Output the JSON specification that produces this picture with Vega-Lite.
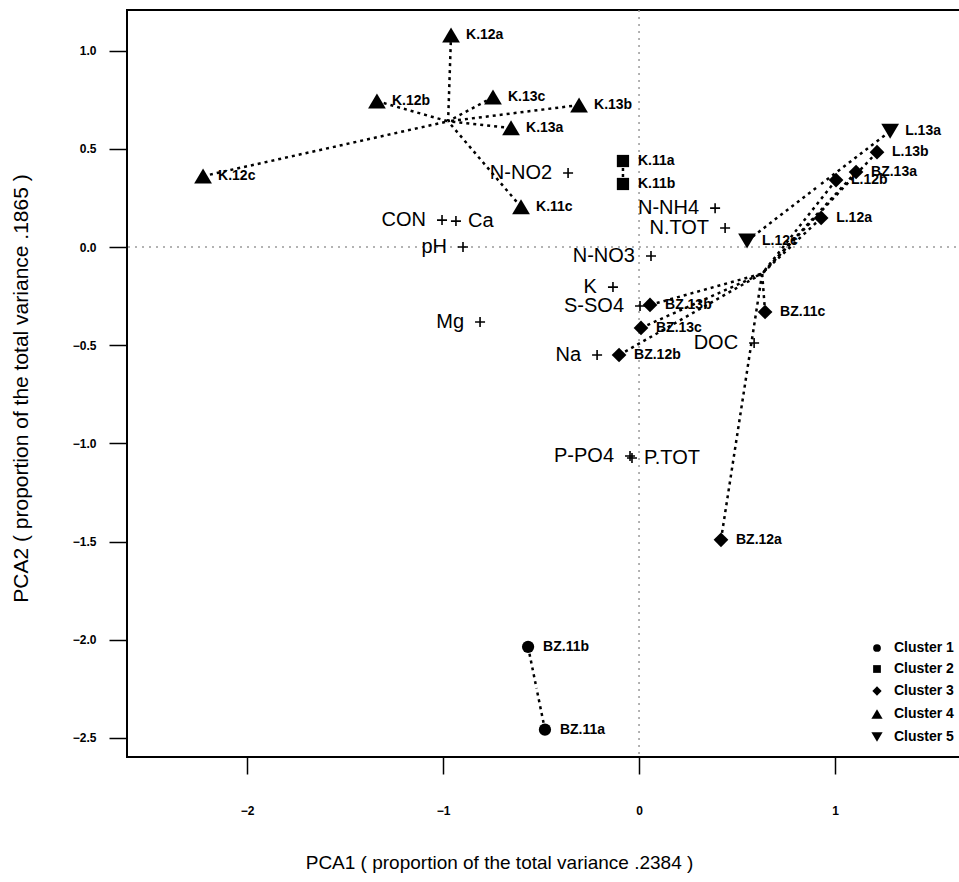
{
  "$schema": "https://vega.github.io/schema/vega-lite/v6.json",
  "width": 850,
  "height": 747,
  "padding": {"left": 10, "top": 9, "right": 0, "bottom": 5},
  "background": "white",
  "config": {
    "view": {"stroke": "black", "strokeWidth": 2},
    "axis": {"grid": false, "domain": false, "tickColor": "black", "labelColor": "black", "titleColor": "black", "labelFont": "Liberation Sans", "titleFont": "Liberation Sans"},
    "legend": {"labelFont": "Liberation Sans"}
  },
  "datasets": {
    "samples": [
      {"id": "BZ.11a", "cluster": "Cluster 1", "x": -0.480, "y": -2.458, "cx": -0.523, "cy": -2.247},
      {"id": "BZ.11b", "cluster": "Cluster 1", "x": -0.566, "y": -2.036, "cx": -0.523, "cy": -2.247},
      {"id": "K.11a", "cluster": "Cluster 2", "x": -0.082, "y": 0.438, "cx": -0.082, "cy": 0.380},
      {"id": "K.11b", "cluster": "Cluster 2", "x": -0.082, "y": 0.321, "cx": -0.082, "cy": 0.380},
      {"id": "L.13b", "cluster": "Cluster 3", "x": 1.214, "y": 0.483, "cx": 0.628, "cy": -0.135},
      {"id": "BZ.13a", "cluster": "Cluster 3", "x": 1.107, "y": 0.382, "cx": 0.628, "cy": -0.135},
      {"id": "L.12b", "cluster": "Cluster 3", "x": 1.005, "y": 0.341, "cx": 0.628, "cy": -0.135},
      {"id": "L.12a", "cluster": "Cluster 3", "x": 0.929, "y": 0.148, "cx": 0.628, "cy": -0.135},
      {"id": "BZ.13b", "cluster": "Cluster 3", "x": 0.056, "y": -0.295, "cx": 0.628, "cy": -0.135},
      {"id": "BZ.13c", "cluster": "Cluster 3", "x": 0.010, "y": -0.412, "cx": 0.628, "cy": -0.135},
      {"id": "BZ.12b", "cluster": "Cluster 3", "x": -0.102, "y": -0.550, "cx": 0.628, "cy": -0.135},
      {"id": "BZ.11c", "cluster": "Cluster 3", "x": 0.643, "y": -0.331, "cx": 0.628, "cy": -0.135},
      {"id": "BZ.12a", "cluster": "Cluster 3", "x": 0.418, "y": -1.491, "cx": 0.628, "cy": -0.135},
      {"id": "K.12a", "cluster": "Cluster 4", "x": -0.959, "y": 1.079, "cx": -0.974, "cy": 0.640},
      {"id": "K.12b", "cluster": "Cluster 4", "x": -1.337, "y": 0.743, "cx": -0.974, "cy": 0.640},
      {"id": "K.12c", "cluster": "Cluster 4", "x": -2.224, "y": 0.361, "cx": -0.974, "cy": 0.640},
      {"id": "K.13c", "cluster": "Cluster 4", "x": -0.745, "y": 0.763, "cx": -0.974, "cy": 0.640},
      {"id": "K.13b", "cluster": "Cluster 4", "x": -0.306, "y": 0.723, "cx": -0.974, "cy": 0.640},
      {"id": "K.13a", "cluster": "Cluster 4", "x": -0.653, "y": 0.606, "cx": -0.974, "cy": 0.640},
      {"id": "K.11c", "cluster": "Cluster 4", "x": -0.602, "y": 0.204, "cx": -0.974, "cy": 0.640},
      {"id": "L.13a", "cluster": "Cluster 5", "x": 1.281, "y": 0.590, "cx": 0.916, "cy": 0.311},
      {"id": "L.12c", "cluster": "Cluster 5", "x": 0.551, "y": 0.031, "cx": 0.916, "cy": 0.311}
    ],
    "loadings": [
      {"var": "N-NO2", "side": "left", "x": -0.362, "y": 0.377},
      {"var": "CON", "side": "left", "x": -1.005, "y": 0.137},
      {"var": "Ca", "side": "right", "x": -0.934, "y": 0.132},
      {"var": "pH", "side": "left", "x": -0.898, "y": 0.0},
      {"var": "N-NH4", "side": "left", "x": 0.388, "y": 0.198},
      {"var": "N.TOT", "side": "left", "x": 0.439, "y": 0.097},
      {"var": "N-NO3", "side": "left", "x": 0.061, "y": -0.046},
      {"var": "K", "side": "left", "x": -0.133, "y": -0.204},
      {"var": "S-SO4", "side": "left", "x": 0.005, "y": -0.300},
      {"var": "Mg", "side": "left", "x": -0.811, "y": -0.382},
      {"var": "Na", "side": "left", "x": -0.214, "y": -0.550},
      {"var": "DOC", "side": "left", "x": 0.587, "y": -0.489},
      {"var": "P-PO4", "side": "left", "x": -0.046, "y": -1.064},
      {"var": "P.TOT", "side": "right", "x": -0.036, "y": -1.074}
    ]
  },
  "layer": [
    {
      "data": {"name": "samples"},
      "mark": {"type": "rule", "color": "black", "strokeWidth": 2.5, "strokeDash": [3, 4]},
      "encoding": {
        "x": {"field": "x", "type": "quantitative", "scale": {"domain": [-2.612, 1.724], "nice": false, "zero": false},
          "axis": {"values": [-2, -1, 0, 1], "format": "d", "tickSize": 17, "tickWidth": 1.5, "labelPadding": 31, "labelFontSize": 12, "labelFontWeight": "bold",
            "title": "PCA1 ( proportion of the total variance  .2384 )", "titleFontSize": 19, "titleFontWeight": "normal", "titleX": 372, "titleY": 105, "titleBaseline": "middle"}},
        "y": {"field": "y", "type": "quantitative", "scale": {"domain": [-2.597, 1.207], "nice": false, "zero": false},
          "axis": {"values": [-2.5, -2, -1.5, -1, -0.5, 0, 0.5, 1], "format": ".1f", "tickSize": 18, "tickWidth": 1.5, "labelPadding": 13, "labelFontSize": 12, "labelFontWeight": "bold",
            "title": "PCA2 ( proportion of the total variance .1865 )", "titleFontSize": 21, "titleFontWeight": "normal", "titleX": -106, "titleY": 378, "titleBaseline": "middle", "titleAngle": -90}},
        "x2": {"field": "cx"},
        "y2": {"field": "cy"}
      }
    },
    {
      "data": {"values": [{"v": 0}]},
      "mark": {"type": "rule", "color": "#9a9a9a", "strokeWidth": 1.5, "strokeDash": [2, 5]},
      "encoding": {"x": {"field": "v", "type": "quantitative"}}
    },
    {
      "data": {"values": [{"v": 0}]},
      "mark": {"type": "rule", "color": "#9a9a9a", "strokeWidth": 1.5, "strokeDash": [2, 5]},
      "encoding": {"y": {"field": "v", "type": "quantitative"}}
    },
    {
      "data": {"name": "loadings"},
      "mark": {"type": "point", "shape": "M-1,0H1M0,-1V1", "size": 100, "filled": false, "stroke": "black", "strokeWidth": 1.6, "opacity": 1},
      "encoding": {
        "x": {"field": "x", "type": "quantitative"},
        "y": {"field": "y", "type": "quantitative"}
      }
    },
    {
      "data": {"name": "loadings"},
      "transform": [{"filter": "datum.side === 'left'"}],
      "mark": {"type": "text", "align": "right", "baseline": "middle", "dx": -16, "font": "Liberation Sans", "fontSize": 20, "color": "black"},
      "encoding": {
        "x": {"field": "x", "type": "quantitative"},
        "y": {"field": "y", "type": "quantitative"},
        "text": {"field": "var"}
      }
    },
    {
      "data": {"name": "loadings"},
      "transform": [{"filter": "datum.side === 'right'"}],
      "mark": {"type": "text", "align": "left", "baseline": "middle", "dx": 12, "font": "Liberation Sans", "fontSize": 20, "color": "black"},
      "encoding": {
        "x": {"field": "x", "type": "quantitative"},
        "y": {"field": "y", "type": "quantitative"},
        "text": {"field": "var"}
      }
    },
    {
      "data": {"name": "samples"},
      "mark": {"type": "point", "filled": true, "color": "black", "opacity": 1, "size": 150},
      "encoding": {
        "x": {"field": "x", "type": "quantitative"},
        "y": {"field": "y", "type": "quantitative"},
        "shape": {"field": "cluster", "type": "nominal",
          "scale": {"domain": ["Cluster 1", "Cluster 2", "Cluster 3", "Cluster 4", "Cluster 5"], "range": ["circle", "square", "M-1.2,0L0,-1.2L1.2,0L0,1.2Z", "M-1.45,1.2L1.45,1.2L0,-1.25Z", "M-1.45,-1.2L1.45,-1.2L0,1.25Z"]},
          "legend": {"orient": "none", "legendX": 743, "legendY": 631, "title": null, "padding": 0, "symbolSize": 60, "symbolFillColor": "black", "symbolStrokeColor": "black", "labelFontSize": 14, "labelFontWeight": "bold", "labelColor": "black", "labelOffset": 10, "rowPadding": 7}}
      }
    },
    {
      "data": {"name": "samples"},
      "mark": {"type": "text", "align": "left", "baseline": "middle", "dx": 15, "font": "Liberation Sans", "fontSize": 14, "fontWeight": "bold", "color": "black"},
      "encoding": {
        "x": {"field": "x", "type": "quantitative"},
        "y": {"field": "y", "type": "quantitative"},
        "text": {"field": "id"}
      }
    }
  ]
}
